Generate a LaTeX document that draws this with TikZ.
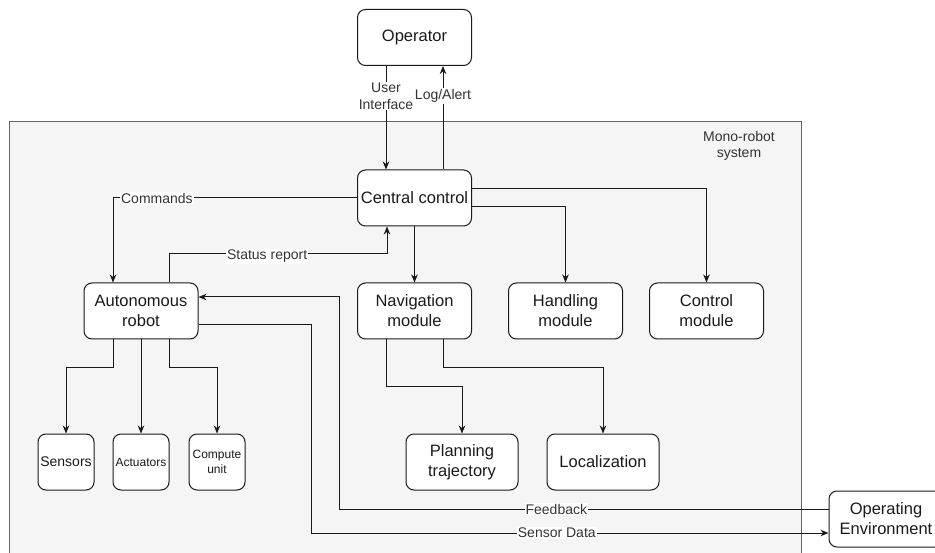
\documentclass[tikz,border=0pt]{standalone}
\usepackage{fontspec}
\setmainfont{Liberation Sans}
\usetikzlibrary{arrows.meta}
\definecolor{contfill}{HTML}{F5F5F5}
\definecolor{contline}{HTML}{666666}
\definecolor{ink}{HTML}{1A1A1A}
\definecolor{lblink}{HTML}{333333}
\begin{document}
\begin{tikzpicture}[x=1pt,y=-1pt,
  box/.style={draw=ink, line width=1pt, rounded corners=8pt, fill=white, align=center, inner sep=0pt, text=ink, font=\fontsize{16.5}{20}\selectfont, minimum width=114pt, minimum height=56pt},
  smallbox/.style={box, minimum width=56pt, minimum height=56pt},
  conn/.style={draw=ink, line width=1pt},
  arr/.style={conn, -{Stealth[length=8pt,width=6.5pt,inset=2.5pt]}},
  lbl/.style={fill=white, inner sep=1pt, text=lblink, font=\fontsize{14}{17}\selectfont, align=center}]
\useasboundingbox (0,0) rectangle (935,553);
% container
\filldraw[fill=contfill, draw=contline, line width=1pt] (9,122) rectangle (801,570);
\node[text=lblink, font=\fontsize{14}{16}\selectfont, align=center] (sys) at (739,146) {Mono-robot\\system};
% nodes
\node[box] (op) at (414.5,37.5) {Operator};
\node[box] (cc) at (414.5,198) {Central control};
\node[box] (rob) at (141,311) {Autonomous\\robot};
\node[box] (nav) at (414.5,311) {Navigation\\module};
\node[box] (hm) at (565.5,311) {Handling\\module};
\node[box] (cm) at (706.5,311) {Control\\module};
\node[smallbox, font=\fontsize{14}{17}\selectfont] (sen) at (66,462) {Sensors};
\node[smallbox, font=\fontsize{12}{15}\selectfont] (act) at (141,462) {Actuators};
\node[smallbox, font=\fontsize{12}{15}\selectfont] (cu) at (217,462) {Compute\\unit};
\node[box, minimum width=112pt] (pt) at (462,462) {Planning\\trajectory};
\node[box, minimum width=112pt] (loc) at (603,462) {Localization};
\node[box] (env) at (886,519) {Operating\\Environment};
\coordinate (fb) at (339,297);
\coordinate (sd) at (311,533);
% connectors
\draw[arr] ([xshift=-28.5pt]op.south) -- ([xshift=-28.5pt]cc.north) node[lbl, pos=0.29] {User\\Interface};
\draw[arr] ([xshift=28.5pt]cc.north) -- ([xshift=28.5pt]op.south) node[lbl, pos=0.71] {Log/Alert};
\draw[arr] (cc.west) -| ([xshift=-28pt]rob.north) node[lbl, pos=0.41] {Commands};
\draw[arr] ([xshift=28pt]rob.north) -- ++(0,-29) -| ([xshift=-27.5pt]cc.south) node[lbl, pos=0.225, yshift=-3pt] {Status report};
\draw[arr] (cc.south) -- (nav.north);
\draw[arr] ([yshift=-9pt]cc.east) -| (hm.north);
\draw[arr] ([yshift=9pt]cc.east) -| (cm.north);
\draw[arr] ([xshift=-28pt]rob.south) -- ++(0,28) -| (sen.north);
\draw[arr] (rob.south) -- (act.north);
\draw[arr] ([xshift=28pt]rob.south) -- ++(0,28) -| (cu.north);
\draw[arr] ([xshift=-28.5pt]nav.south) -- ++(0,47) -| (pt.north);
\draw[arr] ([xshift=28.5pt]nav.south) -- ++(0,28) -| (loc.north);
\draw[arr] ([yshift=10pt]env.west) -| (fb) node[lbl, pos=0.278] {Feedback} -- ([yshift=14pt]rob.east);
\draw[arr] ([yshift=-14pt]rob.east) -| (sd) -- ([yshift=-14pt]env.west) node[lbl, pos=0.475] {Sensor Data};
\end{tikzpicture}
\end{document}
